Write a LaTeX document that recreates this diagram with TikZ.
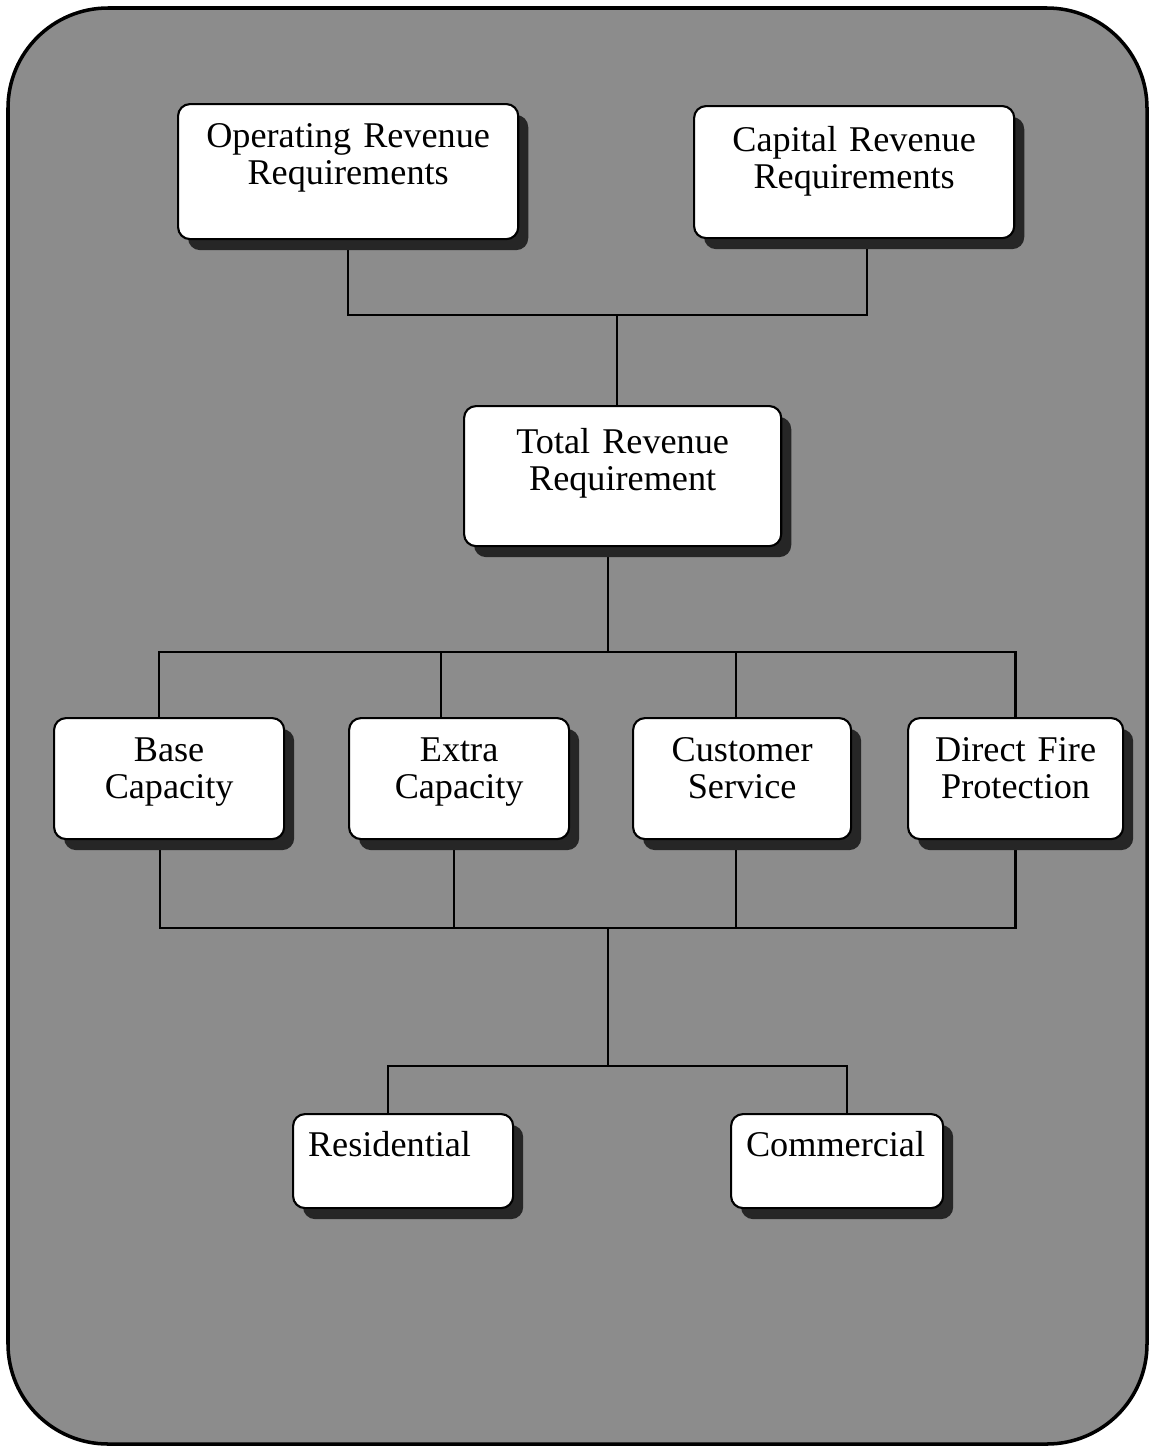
\documentclass[tikz,border=0pt]{standalone}
\usepackage{fontspec}
\setmainfont{Liberation Serif}
\usetikzlibrary{shadows,calc}

\pgfdeclarelayer{back}
\pgfsetlayers{back,main}

\begin{document}
\begin{tikzpicture}[x = 0.01cm, y = -0.01cm,
  revbox/.style = {draw, fill = white, line width = 0.6pt, rounded corners = 1.2mm,
    anchor = north west, inner xsep = 0pt, inner ysep = 0pt, align = center,
    font = \fontsize{10.3}{10.6}\selectfont,
    drop shadow = {shadow xshift = 1mm, shadow yshift = -1.1mm, fill = black!85, opacity = 1}},
  link/.style = {line width = 0.65pt}]
  \useasboundingbox (0,0) rectangle (1151,1448);

  %requirements (top row)
  \node[revbox, text width = 3.4cm, text height = 0.43cm, text depth = 0.92cm] (oprev) at (177,103) {Operating Revenue\\Requirements};
  \node[revbox, text width = 3.2cm, text height = 0.45cm, text depth = 0.87cm] (caprev) at (693,105) {Capital Revenue\\Requirements};

  %total
  \node[revbox, text width = 3.17cm, text height = 0.47cm, text depth = 0.93cm] (totrev) at (463,405) {Total Revenue\\Requirement};

  %functions
  \node[revbox, text width = 2.3cm, text height = 0.43cm, text depth = 0.78cm] (base) at (53,717) {Base\\Capacity};
  \node[revbox, text width = 2.2cm, text height = 0.43cm, text depth = 0.78cm] (extra) at (348,717) {Extra\\Capacity};
  \node[revbox, text width = 2.18cm, text height = 0.43cm, text depth = 0.78cm] (custserv) at (632,717) {Customer\\Service};
  \node[revbox, text width = 2.15cm, text height = 0.43cm, text depth = 0.78cm] (fire) at (907,717) {Direct Fire\\Protection};

  %customer classes
  \node[revbox, align = left, inner xsep = 0.15cm, text width = 1.9cm, text height = 0.42cm, text depth = 0.52cm] (resid) at (292,1113) {Residential};
  \node[revbox, align = left, inner xsep = 0.15cm, text width = 1.82cm, text height = 0.42cm, text depth = 0.52cm] (comm) at (730,1113) {Commercial};

  \begin{pgfonlayer}{back}
    % panel
    \filldraw[fill = black!45, draw = black, line width = 1pt, rounded corners = 1cm] (8,8) rectangle (1147,1444);

    % junctions
    \coordinate (jtop) at (617,315);
    \coordinate (jmid) at (608,652);
    \coordinate (jlow) at (608,928);
    \coordinate (jbot) at (608,1066);

    \draw[link] (oprev.south) |- (jtop) -| ([xshift = 1.3mm]caprev.south);
    \draw[link] (jtop) -- (jtop |- totrev.north);

    \draw[link] (jmid |- totrev.south) -- (jmid);
    \draw[link] ([xshift = -1mm]base.north) |- (jmid) -| (fire.north);
    \draw[link] ([xshift = -1.8mm]extra.north) |- (jmid);
    \draw[link] ([xshift = -0.6mm]custserv.north) |- (jmid);

    \draw[link] ([xshift = -0.9mm]base.south) |- (jlow) -| (fire.south);
    \draw[link] ([xshift = -0.5mm]extra.south) |- (jlow);
    \draw[link] ([xshift = -0.6mm]custserv.south) |- (jlow);

    \draw[link] (jlow) -- (jbot);
    \draw[link] ([xshift = -1.5mm]resid.north) |- (jbot) -| ([xshift = 1mm]comm.north);
  \end{pgfonlayer}
\end{tikzpicture}
\end{document}
